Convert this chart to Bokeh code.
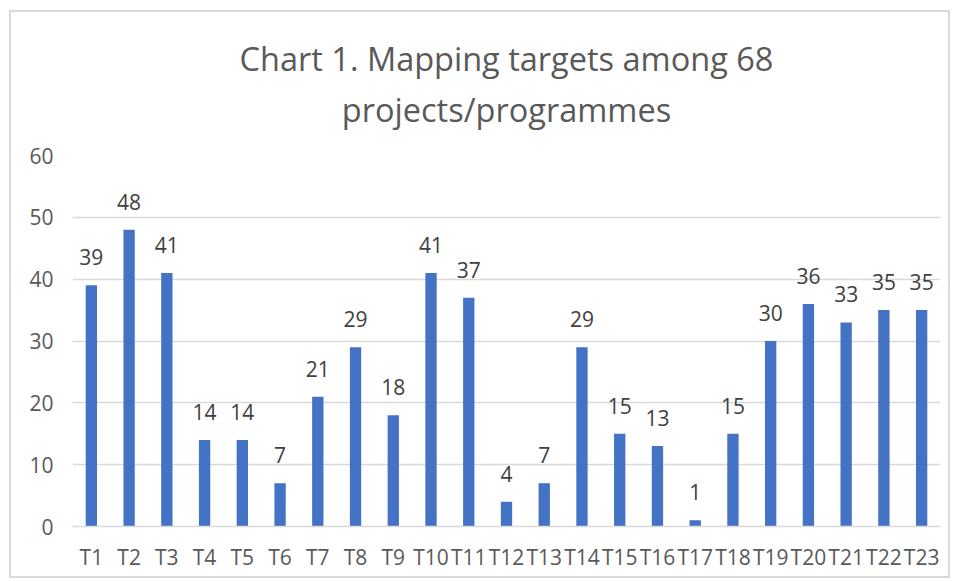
from bokeh.plotting import figure
from bokeh.models import ColumnDataSource, Title, FixedTicker, Range1d
from bokeh.embed import file_html
from bokeh.resources import INLINE
from bokeh.core.properties import value

categories = ["T1", "T2", "T3", "T4", "T5", "T6", "T7", "T8", "T9", "T10", "T11", "T12",
              "T13", "T14", "T15", "T16", "T17", "T18", "T19", "T20", "T21", "T22", "T23"]
counts = [39, 48, 41, 14, 14, 7, 21, 29, 18, 41, 37, 4, 7, 29, 15, 13, 1, 15, 30, 36, 33, 35, 35]
y_ticks = [0, 10, 20, 30, 40, 50, 60]
title_lines = ["Chart 1. Mapping targets among 68", "projects/programmes"]

FONT = "Open Sans"
GRAY = "#595959"
GRID = "#d9d9d9"

src = ColumnDataSource(dict(cat=categories, val=counts, lab=[str(v) for v in counts]))

p = figure(x_range=categories, y_range=Range1d(0, 60), width=941, height=568,
           output_backend="svg", toolbar_location=None,
           min_border_left=61, min_border_right=12, min_border_bottom=54, min_border_top=143)
p.styles = {"border": "2px solid #d9d9d9", "margin": "10px 0 0 9px", "box-sizing": "border-box"}

p.vbar(x="cat", top="val", width=0.3, source=src, color="#4472C4", line_color=None)
p.text(x="cat", y="val", text="lab", source=src, text_align="center",
       text_baseline="alphabetic", y_offset=-28, text_font=value(FONT),
       text_font_size="21px", text_color="#404040")

p.title = None
t2 = Title(text=title_lines[1], align="center", text_font=FONT, text_font_size="32.5px",
           text_font_style="normal", text_color=GRAY, text_line_height=1.0, standoff=48)
t1 = Title(text=title_lines[0], align="center", text_font=FONT, text_font_size="32.5px",
           text_font_style="normal", text_color=GRAY, text_line_height=1.0, standoff=-40)
p.add_layout(t2, "above")
p.add_layout(t1, "above")

p.outline_line_color = None
p.xgrid.grid_line_color = None
p.ygrid.grid_line_color = GRID
p.ygrid.grid_line_width = 1.5
p.yaxis.ticker = FixedTicker(ticks=y_ticks)

for ax in (p.xaxis[0], p.yaxis[0]):
    ax.major_tick_line_color = None
    ax.minor_tick_line_color = None
    ax.major_label_text_font = FONT
    ax.major_label_text_font_size = "21px"
    ax.major_label_text_color = GRAY
p.yaxis.axis_line_color = None
p.yaxis.major_label_standoff = 13
p.xaxis.axis_line_color = GRID
p.xaxis.axis_line_width = 1.5
p.xaxis.major_label_standoff = 10
p.x_range.range_padding = 0.0

open("out.html", "w").write(file_html(p, INLINE))
